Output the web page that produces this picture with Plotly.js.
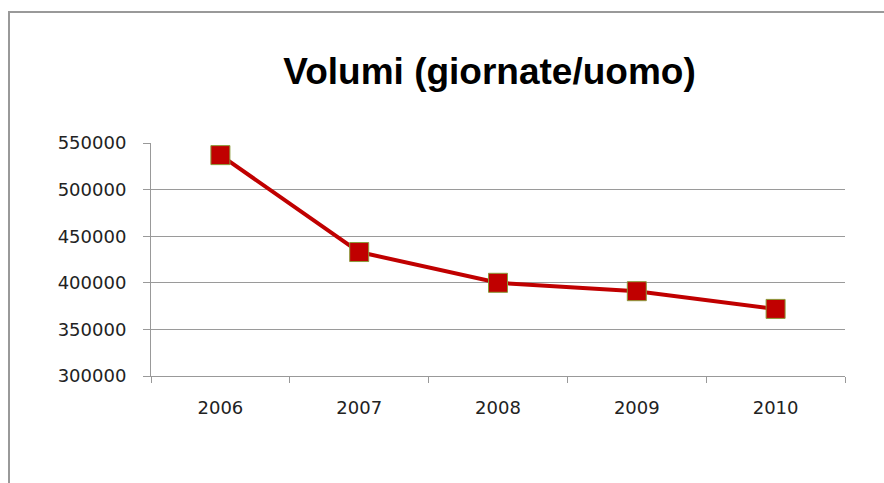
<!DOCTYPE html>
<html>
<head>
<meta charset="utf-8">
<script src="https://cdn.plot.ly/plotly-3.0.1.min.js"></script>
<style>
  html, body { margin: 0; padding: 0; background: #fff; overflow: hidden; }
  #wrap { position: relative; width: 884px; height: 483px; }
  #chart { position: absolute; left: 0; top: 0; width: 884px; height: 483px; }
  #frame { position: absolute; left: 8px; top: 11px; width: 900px; height: 500px;
           border: 2px solid #999; box-sizing: border-box; pointer-events: none; }
</style>
</head>
<body>
<div id="wrap">
  <div id="chart"></div>
  <div id="frame"></div>
</div>
<script>
const years = ['2006', '2007', '2008', '2009', '2010'];
const volumes = [537000, 433000, 400000, 391000, 372000];
const chartTitle = 'Volumi (giornate/uomo)';

const trace = {
  x: years,
  y: volumes,
  type: 'scatter',
  mode: 'lines+markers',
  line: { color: '#C00000', width: 4 },
  marker: { symbol: 'square', size: 19, color: '#C00000', line: { color: '#8A9A3A', width: 1 } },
  hoverinfo: 'x+y'
};

const layout = {
  width: 884,
  height: 483,
  margin: { l: 151, r: 39, t: 143, b: 107 },
  paper_bgcolor: 'rgba(0,0,0,0)',
  plot_bgcolor: '#fff',
  showlegend: false,
  title: {
    text: '<b>' + chartTitle + '</b>',
    font: { family: 'Liberation Sans, Arial, sans-serif', size: 37, color: '#000' },
    xref: 'paper', x: 0.4878, xanchor: 'center',
    yref: 'container', y: 0.853, yanchor: 'middle'
  },
  xaxis: {
    type: 'category',
    range: [-0.5, 4.5],
    tickson: 'boundaries',
    ticks: 'outside', ticklen: 6, tickcolor: '#999', tickwidth: 1,
    showline: true, linecolor: '#999', linewidth: 1,
    showgrid: false, zeroline: false,
    ticklabelstandoff: 15,
    tickfont: { family: 'DejaVu Sans, Verdana, sans-serif', size: 18, color: '#222' }
  },
  yaxis: {
    range: [300000, 550000],
    dtick: 50000,
    tick0: 300000,
    tickformat: 'd',
    ticks: 'outside', ticklen: 7, tickcolor: '#999', tickwidth: 1,
    showline: true, linecolor: '#999', linewidth: 1,
    showgrid: true, gridcolor: '#9a9a9a', gridwidth: 1,
    zeroline: false,
    ticklabelstandoff: 13,
    tickfont: { family: 'DejaVu Sans, Verdana, sans-serif', size: 18, color: '#222' }
  }
};

Plotly.newPlot('chart', [trace], layout, { displayModeBar: false, staticPlot: true });
</script>
</body>
</html>
